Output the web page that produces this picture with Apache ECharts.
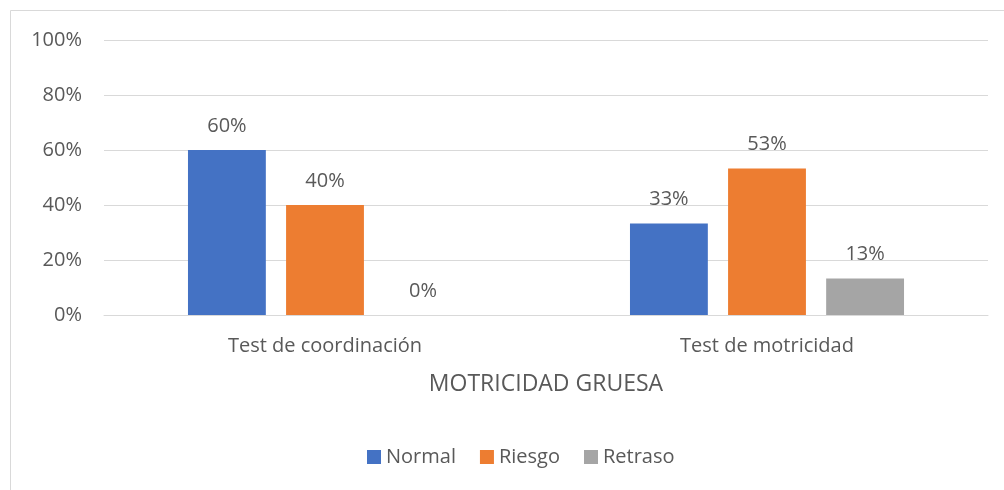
<!DOCTYPE html>
<html>
<head>
<meta charset="utf-8">
<script src="https://cdn.jsdelivr.net/npm/echarts@6/dist/echarts.min.js"></script>
<style>
  html, body { margin: 0; padding: 0; background: #fff; }
  #chart { width: 1004px; height: 490px; }
</style>
</head>
<body>
<div id="chart"></div>
<script>
  // datos de la gráfica
  let categories = ["Test de coordinación", "Test de motricidad"];
  let seriesNames = ["Normal", "Riesgo", "Retraso"];
  let normal = [60, 33.3];
  let riesgo = [40, 53.3];
  let retraso = [0, 13.3];
  let yTicks = [0, 20, 40, 60, 80, 100];

  let colors = ["#4472C4", "#ED7D31", "#A5A5A5"];
  let textColor = "#595959";
  let font = "Open Sans";

  let myChart = echarts.init(document.getElementById("chart"));

  let makeSeries = function (name, values, color) {
    return {
      name: name,
      type: "bar",
      data: values,
      barGap: "26%",
      barCategoryGap: "38%",
      itemStyle: { color: color },
      label: {
        show: true,
        position: "top",
        distance: 14,
        color: textColor,
        fontFamily: font,
        fontSize: 20,
        formatter: function (p) {
          return Math.round(p.value) + "%";
        },
      },
    };
  };

  let option = {
    backgroundColor: "#fff",
    animation: false,
    graphic: [
      {
        // borde del gráfico
        type: "rect",
        shape: { x: 10.5, y: 10.5, width: 1100, height: 600 },
        style: { fill: "none", stroke: "#d9d9d9", lineWidth: 1 },
        silent: true,
      },
    ],
    grid: { left: 104, right: 16, top: 40, bottom: 175 },
    legend: {
      data: seriesNames,
      top: 442,
      left: 362,
      itemWidth: 14,
      itemHeight: 14,
      itemGap: 24,
      icon: "rect",
      textStyle: { color: textColor, fontFamily: font, fontSize: 20 },
    },
    xAxis: {
      type: "category",
      data: categories,
      name: "MOTRICIDAD GRUESA",
      nameLocation: "middle",
      nameGap: 58,
      nameTextStyle: { color: textColor, fontFamily: font, fontSize: 23 },
      axisLine: { lineStyle: { color: "#d9d9d9", width: 1 } },
      axisTick: { show: false },
      axisLabel: { color: textColor, fontFamily: font, fontSize: 20, margin: 21 },
    },
    yAxis: {
      type: "value",
      min: yTicks[0],
      max: yTicks[yTicks.length - 1],
      interval: 20,
      axisLine: { show: false },
      axisTick: { show: false },
      axisLabel: {
        color: textColor,
        fontFamily: font,
        fontSize: 20,
        margin: 22,
        formatter: "{value}%",
      },
      splitLine: { lineStyle: { color: "#d9d9d9", width: 1 } },
    },
    series: [
      makeSeries(seriesNames[0], normal, colors[0]),
      makeSeries(seriesNames[1], riesgo, colors[1]),
      makeSeries(seriesNames[2], retraso, colors[2]),
    ],
  };

  myChart.setOption(option);
</script>
</body>
</html>
